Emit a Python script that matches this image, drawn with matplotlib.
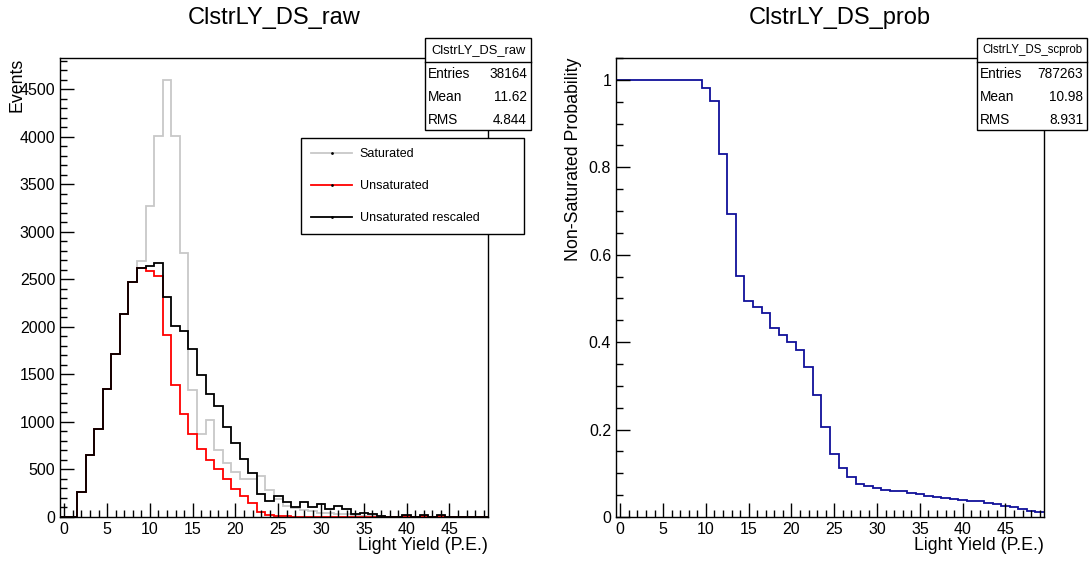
import matplotlib.pyplot as plt
import numpy as np
from matplotlib.patches import Rectangle
from matplotlib.lines import Line2D
from matplotlib.ticker import MultipleLocator

plt.rcParams['font.family'] = ['Liberation Sans', 'DejaVu Sans']

# bin edges: 50 bins of width 1, centred on 0..49
edges = np.arange(-0.5, 50.5, 1)

saturated = [0, 0, 265, 650, 925, 1352, 1720, 2140, 2474, 2692,
             3277, 4013, 4597, 4013, 2777, 1340, 872, 1019, 700, 564,
             476, 396, 396, 430, 283, 185, 120, 90, 70, 60,
             45, 40, 35, 30, 20, 15, 12, 8, 5, 5,
             10, 5, 10, 5, 10, 3, 2, 1, 0, 0]
unsaturated = [0, 0, 265, 650, 925, 1352, 1720, 2140, 2474, 2620,
               2590, 2535, 1915, 1387, 1085, 875, 714, 595, 501, 396,
               298, 224, 144, 56, 21, 8, 6, 4, 3, 3,
               2, 2, 1, 1, 0, 0, 0, 0, 0, 0,
               15, 0, 15, 0, 15, 0, 0, 0, 0, 0]
rescaled = [0, 0, 265, 650, 925, 1352, 1720, 2140, 2474, 2620,
            2637, 2672, 2310, 2010, 1955, 1772, 1492, 1290, 1166, 950,
            781, 606, 462, 245, 171, 222, 155, 105, 158, 106,
            133, 81, 116, 81, 28, 39, 28, 10, 2, 0,
            21, 0, 21, 0, 21, 0, 0, 0, 0, 0]
prob = [1, 1, 1, 1, 1, 1, 1, 1, 1, 1,
        0.981, 0.951, 0.830, 0.692, 0.551, 0.494, 0.481, 0.466, 0.432, 0.416,
        0.401, 0.382, 0.342, 0.280, 0.206, 0.145, 0.113, 0.092, 0.076, 0.070,
        0.066, 0.0624, 0.060, 0.0587, 0.0556, 0.0518, 0.0487, 0.0464, 0.0434, 0.0419,
        0.0396, 0.0373, 0.0358, 0.0327, 0.0297, 0.0251, 0.0221, 0.0175, 0.0137, 0.0107]

W, H = 1091, 564
fig = plt.figure(figsize=(W / 100, H / 100), dpi=100)


def px(x0, y0, x1, y1):
    # pixel box (top-left origin) -> figure fraction rect
    return [x0 / W, 1 - y1 / H, (x1 - x0) / W, (y1 - y0) / H]


def style(ax, major, minor):
    ax.xaxis.set_major_locator(MultipleLocator(5))
    ax.xaxis.set_minor_locator(MultipleLocator(1))
    ax.yaxis.set_major_locator(MultipleLocator(major))
    ax.yaxis.set_minor_locator(MultipleLocator(minor))
    ax.tick_params(which='both', direction='in', top=False, right=False,
                   labelsize=11.5, width=1.0)
    ax.tick_params(which='major', length=10)
    ax.tick_params(which='minor', length=5)
    for s in ax.spines.values():
        s.set_linewidth(1.0)


def stats_box(x0, y0, x1, y1, name, entries, mean, rms, namesize):
    f = fig.transFigure
    hy = y0 + 24
    fig.patches.append(Rectangle((x0 / W, 1 - y1 / H), (x1 - x0) / W, (y1 - y0) / H,
                                 transform=f, fill=True, fc='white', ec='black', lw=1.0))
    fig.lines.append(Line2D([x0 / W, x1 / W], [1 - hy / H, 1 - hy / H],
                            transform=f, color='black', lw=1.0))
    fig.text((x0 + x1) / 2 / W, 1 - (y0 + 12) / H, name, ha='center', va='center',
             fontsize=namesize)
    rows = [('Entries', entries), ('Mean', mean), ('RMS', rms)]
    for i, (k, v) in enumerate(rows):
        yy = 1 - (hy + 12 + i * 23) / H
        fig.text((x0 + 3) / W, yy, k, ha='left', va='center', fontsize=9.8)
        fig.text((x1 - 4) / W, yy, v, ha='right', va='center', fontsize=9.8)


# left panel
ax1 = fig.add_axes(px(60, 58, 488, 517))
ax1.stairs(saturated, edges, color='#c8c8c8', lw=1.3)
ax1.stairs(unsaturated, edges, color='red', lw=1.3)
ax1.stairs(rescaled, edges, color='black', lw=1.3)
ax1.set_xlim(-0.5, 49.5)
ax1.set_ylim(0, 4830)
style(ax1, 500, 100)
ax1.set_xlabel('Light Yield (P.E.)', fontsize=12.8, loc='right', labelpad=0)
ax1.set_ylabel('Events', fontsize=12.8, loc='top')
ax1.yaxis.set_label_coords((26 - 60) / 428, 1.0)
fig.text(274 / W, 1 - 18 / H, 'ClstrLY_DS_raw', ha='center', va='center', fontsize=17)

handles = [Line2D([], [], color='#c8c8c8', lw=1.3, marker='.', markersize=2, markeredgecolor='black'),
           Line2D([], [], color='red', lw=1.3, marker='.', markersize=2, markeredgecolor='black'),
           Line2D([], [], color='black', lw=1.3, marker='.', markersize=2)]
lx0, ly0, lx1, ly1 = 301, 138, 524, 229
leg = ax1.legend(handles, ['Saturated', 'Unsaturated', 'Unsaturated rescaled'],
                 loc='upper left', mode='expand',
                 bbox_to_anchor=((lx0 - 60) / 428, 1 - (ly1 - 58) / 459,
                                 (lx1 - lx0) / 428, (ly1 - ly0) / 459),
                 fontsize=9, fancybox=False, framealpha=1, edgecolor='black',
                 handlelength=3.3, labelspacing=1.6, borderpad=0.8, handletextpad=0.6,
                 borderaxespad=0)
leg.get_frame().set_linewidth(1.0)

stats_box(425, 38, 531, 130, 'ClstrLY_DS_raw', '38164', '11.62', '4.844', 9.3)

# right panel
ax2 = fig.add_axes(px(616, 58, 1044, 517))
ax2.stairs(prob, edges, color='#10109a', lw=1.3, baseline=None)
ax2.set_xlim(-0.5, 49.5)
ax2.set_ylim(0, 1.05)
style(ax2, 0.2, 0.05)
ax2.yaxis.set_major_formatter(lambda v, p: '%g' % round(v, 2))
ax2.set_xlabel('Light Yield (P.E.)', fontsize=12.8, loc='right', labelpad=0)
ax2.set_ylabel('Non-Saturated Probability', fontsize=12.8, loc='top')
ax2.yaxis.set_label_coords((582 - 616) / 428, 1.0)
fig.text(840 / W, 1 - 18 / H, 'ClstrLY_DS_prob', ha='center', va='center', fontsize=17)

stats_box(977, 38, 1087, 130, 'ClstrLY_DS_scprob', '787263', '10.98', '8.931', 8.3)

plt.savefig('out.png', dpi=100)
